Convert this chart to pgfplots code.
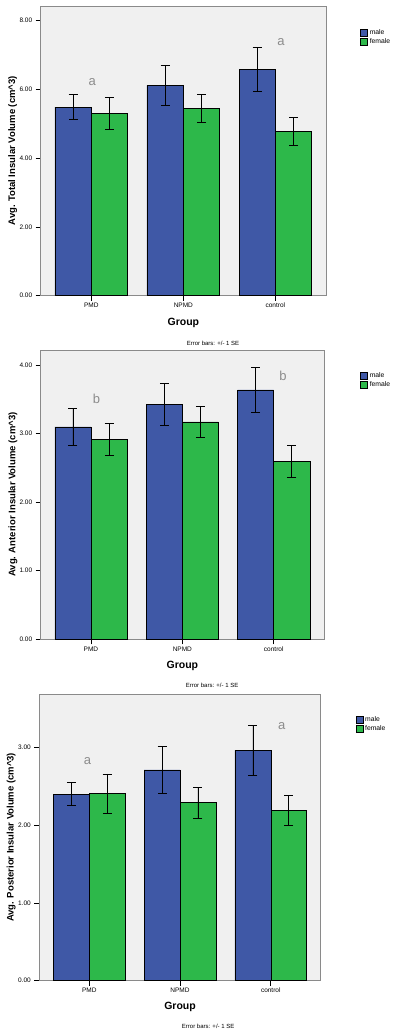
\documentclass[border=0pt]{standalone}
\usepackage{pgfplots}
\pgfplotsset{compat=1.18}
\usepackage{fontspec}
\setmainfont{Liberation Sans}
\definecolor{mblue}{HTML}{3F58A6}
\definecolor{fgreen}{HTML}{2DB84A}
\definecolor{bggray}{HTML}{F0F0F0}
\definecolor{framegray}{HTML}{8A8A8A}
\definecolor{anngray}{HTML}{8C8C8C}
\pgfplotsset{
  spss/.style={
    scale only axis,
    clip=false,
    axis background/.style={fill=bggray},
    axis line style={framegray, line width=0.8pt},
    xmin=-0.55, xmax=2.55,
    ymin=0,
    xtick={0,1,2},
    xticklabels={PMD,NPMD,control},
    xtick pos=bottom, ytick pos=left,
    tick align=outside,
    major tick length=5pt,
    tick style={black, line width=0.6pt},
    x tick label style={font=\fontsize{6.5}{7}\selectfont, yshift=1pt},
    y tick label style={font=\fontsize{6.5}{7}\selectfont},
    /pgf/number format/assume math mode=true,
    yticklabel={\pgfmathprintnumber[fixed,fixed zerofill,precision=2]{\tick}},
    ybar, bar width=0.395,
    xlabel={\textbf{Group}},
    xlabel style={font=\fontsize{10.5}{12}\selectfont, anchor=center},
    ylabel style={font=\fontsize{9.5}{11}\selectfont, anchor=center},
    legend style={draw=none, fill=none, font=\fontsize{6.8}{7.8}\selectfont, anchor=north west,
      inner sep=0pt, row sep=-1pt, cells={anchor=west}},
    legend image code/.code={\draw[#1, draw=black, line width=0.4pt] (0pt,-3.6pt) rectangle (7.2pt,3.6pt);},
    error bars/y dir=both, error bars/y explicit,
    error bars/error bar style={black, line width=0.6pt},
    error bars/error mark options={rotate=90, black, mark size=4.5pt, line width=0.6pt},
  },
  mbar/.style={fill=mblue, draw=black, line width=0.5pt, bar shift=-0.1975},
  fbar/.style={fill=fgreen, draw=black, line width=0.5pt, bar shift=0.1975},
}
\begin{document}
\begin{tikzpicture}
\useasboundingbox (0,0) rectangle (400pt,1036pt);
% Panel 1
\begin{axis}[spss,
  at={(40.7pt,740.3pt)}, anchor=south west,
  width=285.3pt, height=289.7pt,
  ymax=8.43, ytick={0,2,4,6,8},
  ylabel={\textbf{Avg. Total Insular Volume (cm\^{}3)}},
  ylabel style={at={(axis description cs:-0.098,0.5)}},
  xlabel style={at={(axis description cs:0.5,-0.093)}},
  legend style={at={(axis description cs:1.119,0.927)}},
]
\addplot[mbar] table[y error=e] {
x y e
0 5.49 0.365
1 6.12 0.58
2 6.59 0.635
};
\addplot[fbar] table[y error=e] {
x y e
0 5.31 0.47
1 5.45 0.40
2 4.78 0.405
};
\legend{male,female}
\node[anngray, font=\fontsize{13}{14}\selectfont] at (axis cs:0.01,6.23) {a};
\node[anngray, font=\fontsize{13}{14}\selectfont] at (axis cs:2.06,7.37) {a};
\node[font=\fontsize{6}{7}\selectfont] at (axis description cs:0.604,-0.163) {Error bars: +/- 1 SE};
\end{axis}
% Panel 2
\begin{axis}[spss,
  at={(40.7pt,396.7pt)}, anchor=south west,
  width=283.3pt, height=289.3pt,
  ymax=4.22, ytick={0,1,2,3,4},
  ylabel={\textbf{Avg. Anterior Insular Volume (cm\^{}3)}},
  ylabel style={at={(axis description cs:-0.098,0.5)}},
  xlabel style={at={(axis description cs:0.5,-0.092)}},
  legend style={at={(axis description cs:1.127,0.93)}},
]
\addplot[mbar] table[y error=e] {
x y e
0 3.10 0.265
1 3.43 0.305
2 3.64 0.33
};
\addplot[fbar] table[y error=e] {
x y e
0 2.92 0.23
1 3.17 0.225
2 2.60 0.23
};
\legend{male,female}
\node[anngray, font=\fontsize{13}{14}\selectfont] at (axis cs:0.06,3.50) {b};
\node[anngray, font=\fontsize{13}{14}\selectfont] at (axis cs:2.10,3.84) {b};
\node[font=\fontsize{6}{7}\selectfont] at (axis description cs:0.605,-0.160) {Error bars: +/- 1 SE};
\end{axis}
% Panel 3
\begin{axis}[spss,
  at={(39.3pt,55.3pt)}, anchor=south west,
  width=281.4pt, height=286.7pt,
  ymax=3.686, ytick={0,1,2,3},
  ylabel={\textbf{Avg. Posterior Insular Volume (cm\^{}3)}},
  ylabel style={at={(axis description cs:-0.1,0.5)}},
  xlabel style={at={(axis description cs:0.5,-0.091)}},
  legend style={at={(axis description cs:1.123,0.93)}},
]
\addplot[mbar] table[y error=e] {
x y e
0 2.40 0.145
1 2.71 0.30
2 2.96 0.32
};
\addplot[fbar] table[y error=e] {
x y e
0 2.405 0.255
1 2.29 0.20
2 2.19 0.19
};
\legend{male,female}
\node[anngray, font=\fontsize{13}{14}\selectfont] at (axis cs:-0.02,2.82) {a};
\node[anngray, font=\fontsize{13}{14}\selectfont] at (axis cs:2.12,3.28) {a};
\node[font=\fontsize{6}{7}\selectfont] at (axis description cs:0.6,-0.160) {Error bars: +/- 1 SE};
\end{axis}
\end{tikzpicture}
\end{document}
